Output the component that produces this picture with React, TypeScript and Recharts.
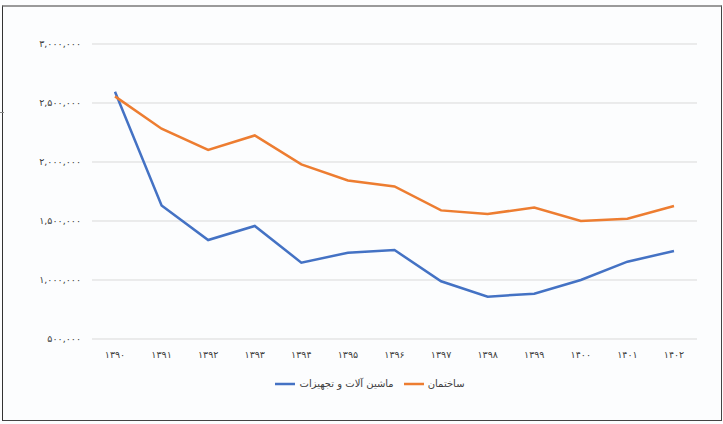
import { LineChart, Line, XAxis, YAxis, CartesianGrid, Legend } from 'recharts';

const years = ['1390', '1391', '1392', '1393', '1394', '1395', '1396', '1397', '1398', '1399', '1400', '1401', '1402'];
const machinery = [2596000, 1632000, 1339000, 1458000, 1147000, 1231000, 1254000, 989000, 859000, 884000, 1000000, 1155000, 1246000];
const building = [2556000, 2282000, 2102000, 2225000, 1980000, 1844000, 1793000, 1590000, 1559000, 1615000, 1500000, 1519000, 1627000];
const yTicks = [500000, 1000000, 1500000, 2000000, 2500000, 3000000];
const seriesOrder = ['machinery', 'building'];

const persianDigits = '۰۱۲۳۴۵۶۷۸۹';
const toFa = (s: string) => s.replace(/[0-9]/g, (d) => persianDigits[Number(d)]);

const data = years.map((y, i) => ({ year: y, machinery: machinery[i], building: building[i] }));

const font = '"DejaVu Sans", Tahoma, sans-serif';

export default function App() {
  return (
    <div style={{ position: 'absolute', left: 0, top: 0, width: 723, height: 424, background: '#fcfdfe', fontFamily: font }}>
      <div
        style={{
          position: 'absolute',
          left: 2,
          top: 5,
          width: 718,
          height: 413,
          borderTop: '2px solid #9a9a9a',
          borderLeft: '1px solid #333',
          borderRight: '1px solid #444',
          borderBottom: '1px solid #444',
        }}
      />
      <div style={{ position: 'absolute', left: 0, top: 112, width: 4, height: 1, background: '#888' }} />
      <LineChart width={723} height={424} data={data} margin={{ top: 44, right: 26, left: 0, bottom: 35 }}>
        <CartesianGrid vertical={false} stroke="#d9d9d9" />
        <XAxis
          dataKey="year"
          height={30}
          padding={{ left: 23, right: 23 }}
          axisLine={false}
          tickLine={false}
          tickMargin={6}
          tickFormatter={toFa}
          tick={{ fontSize: 9.5, fill: '#404040', fontFamily: font }}
          interval={0}
        />
        <YAxis
          width={92}
          domain={[500000, 3000000]}
          ticks={yTicks}
          axisLine={false}
          tickLine={false}
          tickMargin={5}
          tickFormatter={(v) => toFa(Number(v).toLocaleString('en-US'))}
          tick={{ fontSize: 9.5, fill: '#404040', fontFamily: font }}
        />
        <Legend
          iconType="plainline"
          iconSize={20}
          itemSorter={(item) => seriesOrder.indexOf(String(item.dataKey))}
          formatter={(value) => <span style={{ color: '#404040' }}>{value}</span>}
          wrapperStyle={{ top: 374, left: 0, width: 750, fontSize: 10, fontFamily: font }}
        />
        <Line
          type="linear"
          dataKey="machinery"
          name="ماشین آلات و تجهیزات"
          stroke="#4472C4"
          strokeWidth={2.5}
          dot={false}
          isAnimationActive={false}
        />
        <Line
          type="linear"
          dataKey="building"
          name="ساختمان"
          stroke="#ED7D31"
          strokeWidth={2.5}
          dot={false}
          isAnimationActive={false}
        />
      </LineChart>
    </div>
  );
}
